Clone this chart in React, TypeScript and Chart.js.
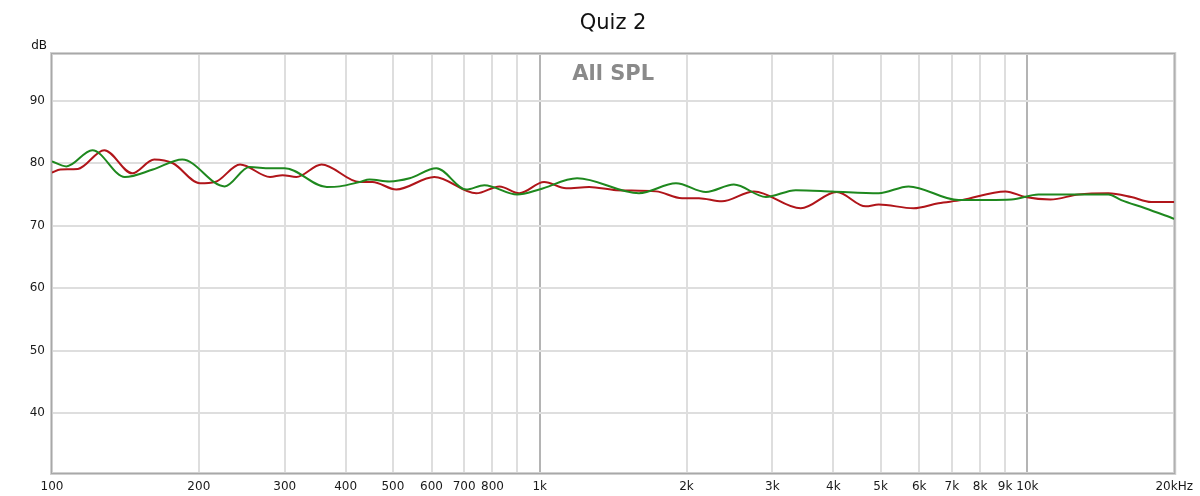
import React, { useEffect, useRef } from "react";
import { Chart, registerables } from "chart.js";

Chart.register(...registerables);

const chartTitle = "Quiz 2";
const innerLabel = "All SPL";
const yUnit = "dB";

const greenFreq = [100, 107, 121, 141, 161, 185, 226, 254, 280, 300, 366, 389, 427, 448, 492, 541, 614, 707, 770, 899, 998, 1193, 1598, 1903, 2192, 2501, 2909, 3350, 3970, 4955, 5706, 7224, 9273, 10532, 12721, 14651, 15575, 17441, 20000];
const greenSpl = [80.3, 79.5, 82.1, 77.8, 79.0, 80.6, 76.3, 79.4, 79.2, 79.2, 76.2, 76.3, 77.0, 77.4, 77.1, 77.6, 79.2, 75.8, 76.5, 75.0, 75.8, 77.6, 75.2, 76.8, 75.4, 76.6, 74.6, 75.7, 75.5, 75.2, 76.3, 74.1, 74.2, 75.0, 75.0, 75.0, 74.1, 72.8, 71.1];

const redFreq = [100, 104, 113, 128, 146, 162, 177, 201, 216, 243, 280, 297, 317, 357, 427, 454, 508, 608, 741, 827, 908, 1021, 1133, 1263, 1434, 1732, 1958, 2121, 2363, 2749, 3430, 4064, 4660, 4955, 5843, 6573, 7326, 9016, 9906, 11146, 12721, 14651, 16327, 17937, 20000];
const redSpl = [78.5, 79.0, 79.1, 82.1, 78.4, 80.6, 80.0, 76.8, 77.0, 79.8, 77.8, 78.1, 77.8, 79.8, 77.0, 77.0, 75.8, 77.8, 75.2, 76.3, 75.2, 77.0, 76.0, 76.2, 75.7, 75.5, 74.4, 74.4, 73.9, 75.5, 72.8, 75.4, 73.1, 73.4, 72.8, 73.6, 74.1, 75.5, 74.6, 74.2, 75.0, 75.2, 74.6, 73.8, 73.8];

const xTickValues = [100, 200, 300, 400, 500, 600, 700, 800, 900, 1000, 2000, 3000, 4000, 5000, 6000, 7000, 8000, 9000, 10000, 20000];
const xTickLabels = ["100", "200", "300", "400", "500", "600", "700", "800", "", "1k", "2k", "3k", "4k", "5k", "6k", "7k", "8k", "9k", "10k", "20kHz"];
const yTickValues = [40, 50, 60, 70, 80, 90];

const X_MIN = 100;
const X_MAX = 20000;
const Y_MIN = 30.4;
const Y_MAX = 97.5;

const FONT = "'DejaVu Sans', 'Noto Sans', sans-serif";

const decorPlugin = {
  id: "decor",
  beforeDatasetsDraw(chart: any) {
    const { ctx, chartArea: a } = chart;
    ctx.save();
    // frame
    ctx.strokeStyle = "#d0d0d0";
    ctx.lineWidth = 3;
    ctx.strokeRect(a.left - 0.5, a.top - 0.5, a.right - a.left + 1, a.bottom - a.top + 1);
    ctx.strokeStyle = "#a8a8a8";
    ctx.lineWidth = 1;
    ctx.strokeRect(a.left - 0.5, a.top - 0.5, a.right - a.left + 1, a.bottom - a.top + 1);
    // inner label
    ctx.fillStyle = "#8a8a8a";
    ctx.font = `bold 21px ${FONT}`;
    ctx.textAlign = "center";
    ctx.textBaseline = "alphabetic";
    ctx.fillText(innerLabel, (a.left + a.right) / 2, a.top + 26);
    ctx.restore();
  },
  afterDraw(chart: any) {
    const { ctx, chartArea: a } = chart;
    ctx.save();
    ctx.fillStyle = "#111";
    ctx.font = `21px ${FONT}`;
    ctx.textAlign = "center";
    ctx.textBaseline = "alphabetic";
    ctx.fillText(chartTitle, (a.left + a.right) / 2, 29);
    ctx.font = `12px ${FONT}`;
    ctx.textAlign = "right";
    ctx.fillText(yUnit, a.left - 5, a.top - 5);
    ctx.restore();
  },
};

export default function App() {
  const ref = useRef<HTMLCanvasElement | null>(null);

  useEffect(() => {
    document.body.style.margin = "0";
    const canvas = ref.current;
    if (!canvas) return;
    const chart = new Chart(canvas, {
      type: "line",
      data: {
        datasets: [
          {
            label: "green",
            data: greenFreq.map((f, i) => ({ x: f, y: greenSpl[i] })),
            borderColor: "#1e881e",
            borderWidth: 2,
            pointRadius: 0,
            cubicInterpolationMode: "monotone",
            fill: false,
          },
          {
            label: "red",
            data: redFreq.map((f, i) => ({ x: f, y: redSpl[i] })),
            borderColor: "#b0151a",
            borderWidth: 2,
            pointRadius: 0,
            cubicInterpolationMode: "monotone",
            fill: false,
          },
        ],
      },
      options: {
        animation: false,
        responsive: false,
        devicePixelRatio: 1,
        layout: { padding: { top: 54, right: 24, left: 0, bottom: 0 } },
        plugins: {
          legend: { display: false },
          title: { display: false },
          tooltip: { enabled: false },
        },
        scales: {
          x: {
            type: "logarithmic",
            min: X_MIN,
            max: X_MAX,
            border: { display: false },
            afterBuildTicks: (s: any) => {
              s.ticks = xTickValues.map((v) => ({ value: v }));
            },
            afterFit: (s: any) => {
              s.height = 23;
            },
            grid: {
              color: (c: any) =>
                c.tick && (c.tick.value === 1000 || c.tick.value === 10000) ? "#b4b4b4" : "#dedede",
              lineWidth: 2,
              drawTicks: false,
              tickLength: 0,
            },
            ticks: {
              autoSkip: false,
              maxRotation: 0,
              padding: 7,
              color: "#1a1a1a",
              font: { family: FONT, size: 12 },
              callback: (_v: any, i: number) => xTickLabels[i],
            },
          },
          y: {
            type: "linear",
            min: Y_MIN,
            max: Y_MAX,
            border: { display: false },
            afterBuildTicks: (s: any) => {
              s.ticks = yTickValues.map((v) => ({ value: v }));
            },
            afterFit: (s: any) => {
              s.width = 52;
            },
            grid: {
              color: "#dedede",
              lineWidth: 2,
              drawTicks: false,
              tickLength: 0,
            },
            ticks: {
              padding: 7,
              color: "#1a1a1a",
              font: { family: FONT, size: 12 },
              callback: (v: any) => String(v),
            },
          },
        },
      },
      plugins: [decorPlugin],
    } as any);
    return () => chart.destroy();
  }, []);

  return (
    <div style={{ width: 1200, height: 496, background: "#fff" }}>
      <canvas ref={ref} width={1200} height={496} style={{ display: "block" }} />
    </div>
  );
}
